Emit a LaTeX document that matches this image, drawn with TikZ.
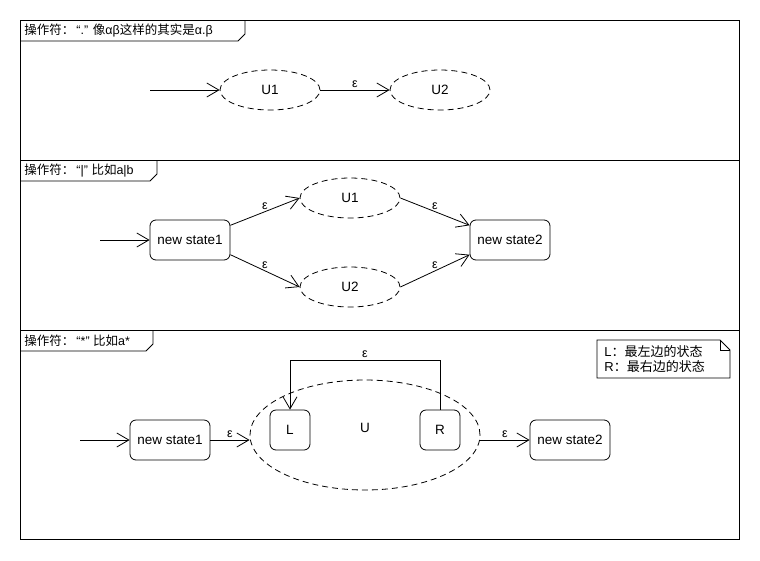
\documentclass[tikz,border=0pt]{standalone}
\usepackage{fontspec}
\setmainfont{Liberation Sans}
\newfontfamily\cjk{Noto Sans CJK SC}
\usetikzlibrary{arrows.meta, positioning, shapes.geometric}
\tikzset{
  state/.style={rectangle,draw,rounded corners=6pt,align=center,inner sep=2pt,minimum width=80pt,minimum height=40pt},
  part/.style={ellipse,draw,dash pattern=on 6pt off 4pt,minimum width=100pt,minimum height=40pt,inner sep=0pt},
  inner/.style={rectangle,draw,rounded corners=6pt,minimum width=40pt,minimum height=40pt},
  line/.style={-{Straight Barb[length=12pt,width=14pt]}},
  lbl/.style={font=\fontsize{12.5}{14}\selectfont,inner sep=2pt},
  tab/.style={anchor=west,inner sep=0pt,font=\fontsize{12.5}{14}\selectfont}
}

\begin{document}
\begin{tikzpicture}[x=1pt,y=-1pt,line width=0.8pt,font=\fontsize{13.5}{16}\selectfont]
\useasboundingbox (0,0) rectangle (760,560);
% frames
\draw (20,20) rectangle (739,160);
\draw (20,160) rectangle (739,330);
\draw (20,330) rectangle (739,539);
\draw (20,41) -- (238,41) -- (245,34) -- (245,20);
\draw (20,181) -- (150,181) -- (157,174) -- (157,160);
\draw (20,351) -- (146,351) -- (153,344) -- (153,330);
\node[tab] (t1) at (24,30.5) {{\cjk 操作符：}\,“.” {\cjk 像}αβ{\cjk 这样的其实是}α.β};
\node[tab] (t2) at (24,170.5) {{\cjk 操作符：}\,“|” {\cjk 比如}a|b};
\node[tab] (t3) at (24,340.5) {{\cjk 操作符：}\,“*” {\cjk 比如}a*};

% concatenation
\coordinate (s1) at (150,90);
\node[part] (a1) at (270,90) {U1};
\node[part] (a2) at (440,90) {U2};
\draw[line] (s1) -- (a1);
\draw[line] (a1) -- node[lbl,above] {ε} (a2);

% alternation
\coordinate (s2) at (100,240);
\node[state] (b0) at (190,240) {new state1};
\node[part] (b1) at (350,198) {U1};
\node[part] (b2) at (350,287) {U2};
\node[state] (b3) at (510,240) {new state2};
\draw[line] (s2) -- (b0);
\draw[line] (b0.20) -- node[lbl,above] {ε} (b1.west);
\draw[line] (b0.-20) -- node[lbl,above] {ε} (b2.west);
\draw[line] (b1.east) -- node[lbl,above] {ε} (b3.160);
\draw[line] (b2.east) -- node[lbl,above] {ε} (b3.-160);

% closure
\coordinate (s3) at (80,440);
\node[state] (c0) at (170,440) {new state1};
\node[ellipse,draw,dash pattern=on 6pt off 4pt,minimum width=230pt,minimum height=110pt] (cu) at (365,435) {};
\node (ulbl) at (365,428) {U};
\node[inner] (cl) at (290,430) {L};
\node[inner] (cr) at (440,430) {R};
\node[state] (c3) at (570,440) {new state2};
\coordinate (top) at (365,360);
\draw[line] (s3) -- (c0);
\draw[line] (c0) -- node[lbl,above] {ε} (c0 -| cu.west);
\draw[line] (c3 -| cu.east) -- node[lbl,above] {ε} (c3);
\draw[line] (cr.north) -- (cr.north |- top) -- node[lbl,above] {ε} (cl.north |- top) -- (cl.north);

% note
\draw (597,340) -- (720,340) -- (730,350) -- (730,378) -- (597,378) -- cycle;
\draw (720,340) -- (720,350) -- (730,350);
\node[anchor=west,align=left,inner sep=0pt,font=\fontsize{13}{15.5}\selectfont] (nt) at (604,359) {L{\cjk ：最左边的状态}\\R{\cjk ：最右边的状态}};
\end{tikzpicture}
\end{document}
